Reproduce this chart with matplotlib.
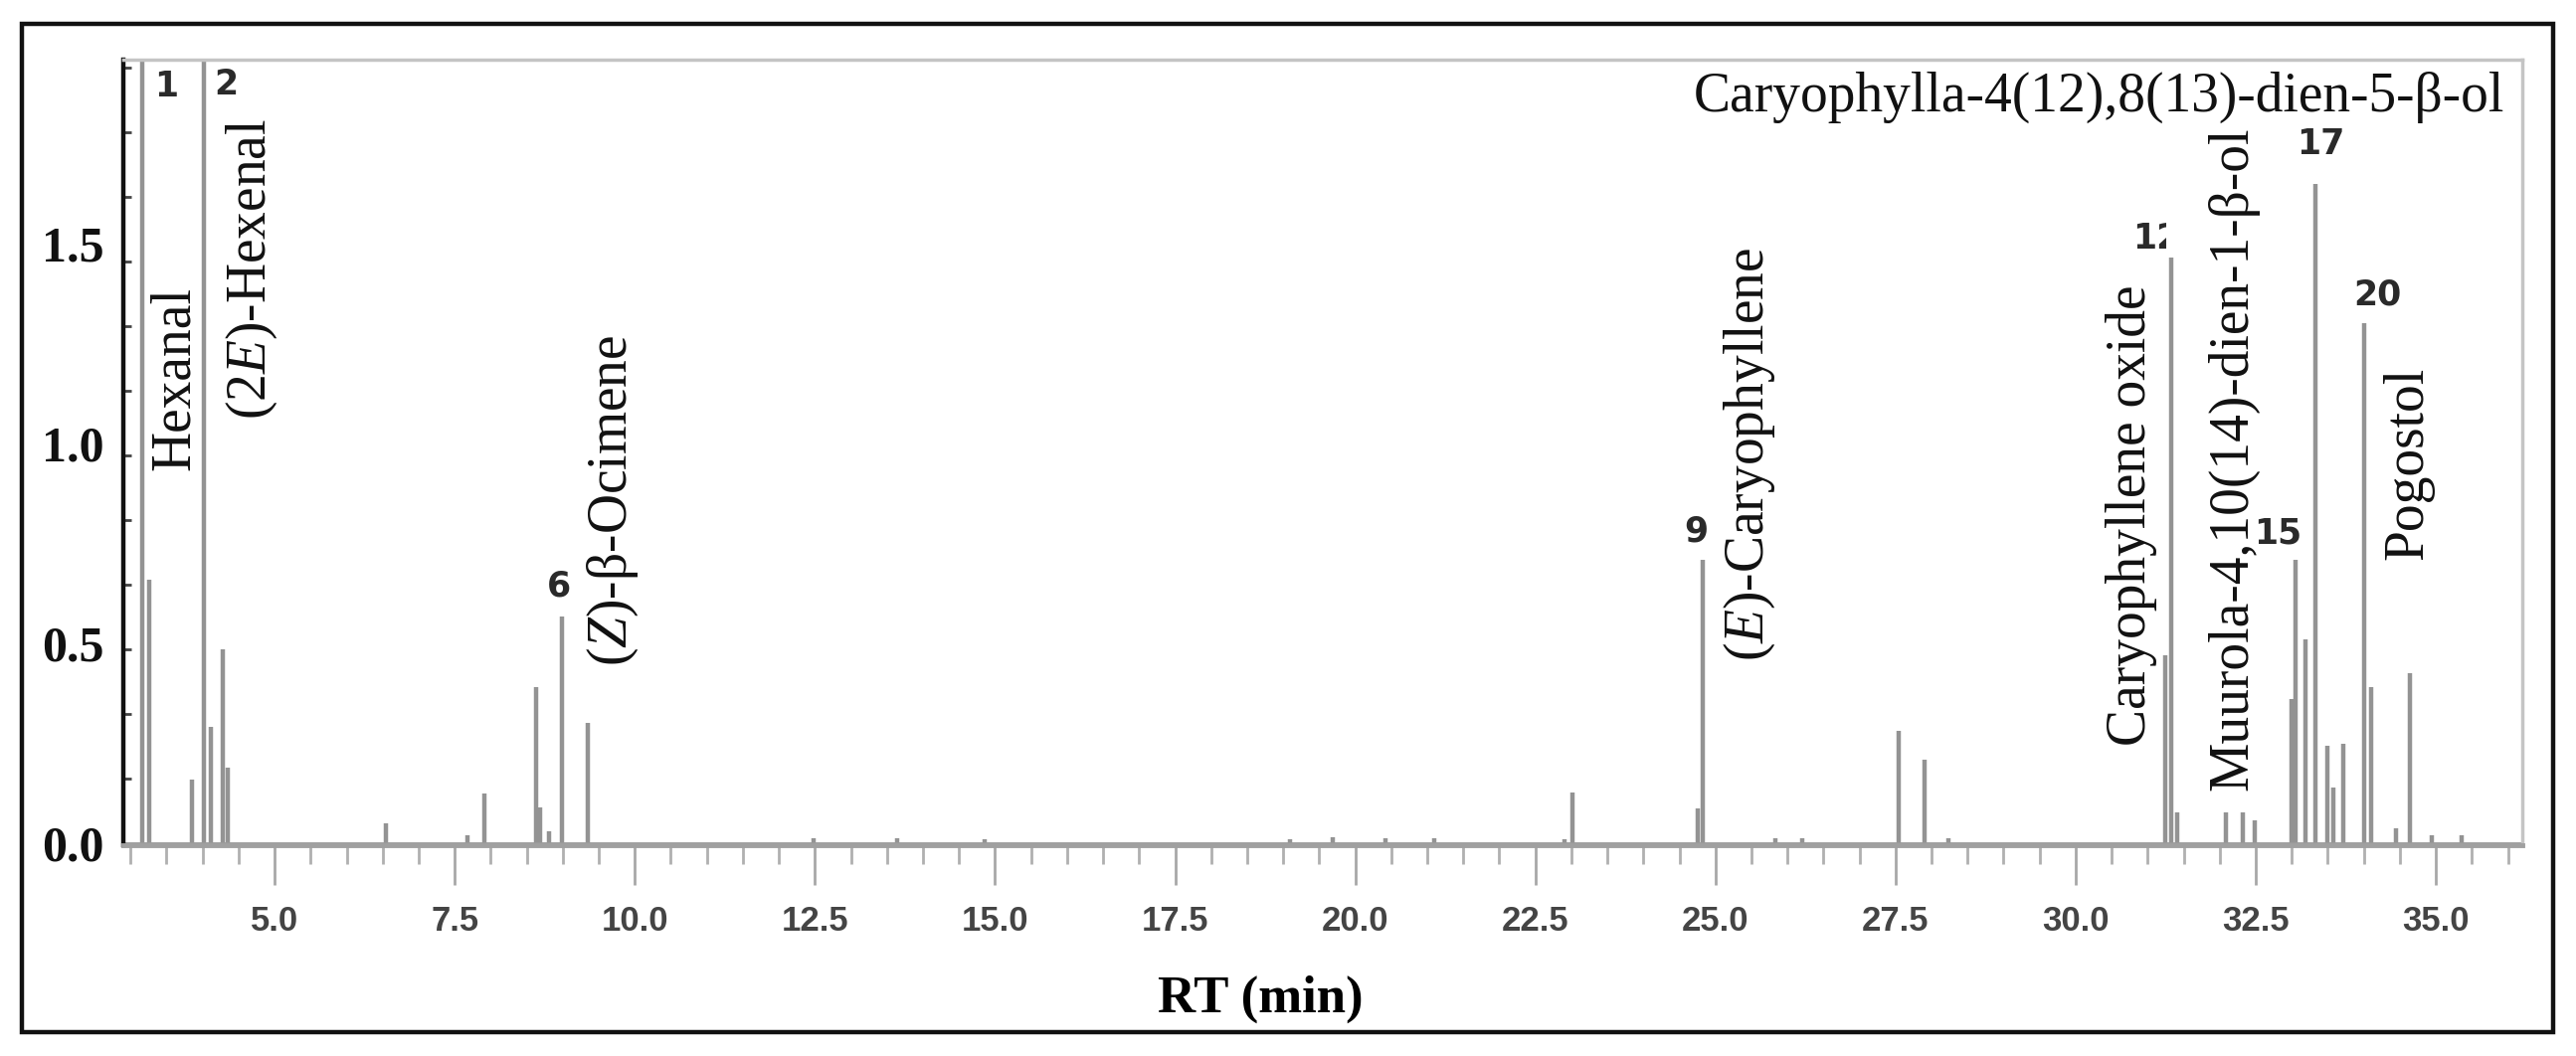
import matplotlib.pyplot as plt
from matplotlib.ticker import MultipleLocator, FixedLocator
from matplotlib.patches import Rectangle

# peak table (RT in min, relative abundance)
rt = [3.16, 3.26, 3.85, 4.02, 4.12, 4.28, 4.35, 6.55, 7.68, 7.91,
      8.63, 8.68, 8.81, 8.99, 9.35, 12.48, 13.64, 14.86, 19.10, 19.69,
      20.42, 21.10, 22.90, 23.02, 24.76, 24.83, 25.83, 26.20, 27.55, 27.90,
      28.24, 31.25, 31.33, 31.41, 32.09, 32.32, 32.49, 33.00, 33.05, 33.19,
      33.33, 33.50, 33.58, 33.72, 34.00, 34.10, 34.45, 34.64, 34.95, 35.36]
abundance = [2.50, 0.66, 0.16, 2.30, 0.29, 0.485, 0.19, 0.05, 0.02, 0.125,
             0.39, 0.09, 0.03, 0.567, 0.30, 0.012, 0.012, 0.01, 0.01, 0.015,
             0.012, 0.012, 0.01, 0.127, 0.087, 0.709, 0.012, 0.012, 0.28, 0.21,
             0.012, 0.47, 1.465, 0.077, 0.077, 0.077, 0.057, 0.36, 0.709, 0.51,
             1.65, 0.244, 0.14, 0.249, 1.30, 0.39, 0.037, 0.425, 0.02, 0.02]

# peak numbers
num_labels = ['1', '2', '6', '9', '12', '15', '17', '20']
num_x = [3.495, 4.323, 8.949, 24.73, 31.12, 32.81, 33.40, 34.19]
num_y = [1.893, 1.898, 0.642, 0.779, 1.512, 0.774, 1.749, 1.371]

# compound names (vertical)
names = ['Hexanal', r'(2$\it{E}$)-Hexenal', r'($\it{Z}$)-β-Ocimene',
         r'($\it{E}$)-Caryophyllene', 'Caryophyllene oxide',
         'Muurola-4,10(14)-dien-1-β-ol', 'Pogostol']
name_x = [3.813, 4.876, 9.888, 25.668, 30.97, 32.38, 34.81]
name_y = [0.933, 1.06, 0.443, 0.455, 0.244, 0.132, 0.709]

xticks = [5.0, 7.5, 10.0, 12.5, 15.0, 17.5, 20.0, 22.5, 25.0, 27.5, 30.0, 32.5, 35.0]
yticks = [0.0, 0.5, 1.0, 1.5]

plt.rcParams['mathtext.fontset'] = 'custom'
plt.rcParams['mathtext.it'] = 'Liberation Serif:italic'
plt.rcParams['mathtext.rm'] = 'Liberation Serif'

fig = plt.figure(figsize=(25.9, 10.62), dpi=100)
ax = fig.add_axes([124 / 2590, 1 - 850 / 1062, (2536 - 124) / 2590, (850 - 60) / 1062])

# outer frame
fig.patches.append(Rectangle((22 / 2590, 1 - 1038 / 1062), (2567 - 22) / 2590, (1038 - 24) / 1062,
                             transform=fig.transFigure, fill=False, edgecolor='#111111', lw=3.2))

ax.vlines(rt, 0, abundance, color='#939393', lw=3.2)
ax.plot([2.9, 36.2], [0, 0], color='#9a9a9a', lw=2)

ax.set_xlim(2.9, 36.2)
ax.set_ylim(-0.005, 1.96)

# spines
ax.spines['left'].set_color('#111111')
ax.spines['left'].set_linewidth(3.2)
for s in ['top', 'right']:
    ax.spines[s].set_color('#c4c4c4')
    ax.spines[s].set_linewidth(2.5)
ax.spines['bottom'].set_color('#a0a0a0')
ax.spines['bottom'].set_linewidth(3.5)

# x ticks
ax.xaxis.set_major_locator(FixedLocator(xticks))
ax.xaxis.set_minor_locator(MultipleLocator(0.5))
ax.set_xticklabels([f'{t:.1f}' for t in xticks], family='Liberation Sans',
                   fontsize=25, fontweight='bold', color='#444444')
ax.tick_params(axis='x', which='major', direction='out', length=29, width=2, color='#a8a8a8', pad=14)
ax.tick_params(axis='x', which='minor', direction='out', length=14, width=2, color='#b0b0b0')

# y ticks
ax.yaxis.set_major_locator(FixedLocator(yticks))
ax.yaxis.set_minor_locator(MultipleLocator(0.1617))
ax.set_yticklabels([f'{t:.1f}' for t in yticks], family='Liberation Serif',
                   fontsize=36, fontweight='bold', color='#111111')
ax.tick_params(axis='y', which='major', length=0, pad=14)
ax.tick_params(axis='y', which='minor', direction='in', length=6, width=2, color='#444444')

ax.set_xlabel('RT (min)', family='Liberation Serif', fontsize=38, fontweight='bold')
ax.xaxis.set_label_coords(0.474, -0.166)

# compound names
for txt, x, y in zip(names, name_x, name_y):
    ax.text(x, y, txt, rotation=90, rotation_mode='anchor', ha='left', va='baseline',
            family='Liberation Serif', fontsize=40, color='#111111')

ax.text(35.96, 1.831, 'Caryophylla-4(12),8(13)-dien-5-β-ol', ha='right', va='baseline',
        family='Liberation Serif', fontsize=40, color='#111111')

# peak numbers
for txt, x, y in zip(num_labels, num_x, num_y):
    t = ax.text(x, y, txt, ha='center', va='center', family='DejaVu Sans',
                fontsize=25, fontweight='bold', color='#2a2a2a')
    if txt == '12':
        # the second digit is cut off in the original figure
        t.set_clip_on(True)
        t.set_clip_path(Rectangle((29.0, 0), 2.26, 2.0, transform=ax.transData))

fig.savefig('out.png', dpi=100)
